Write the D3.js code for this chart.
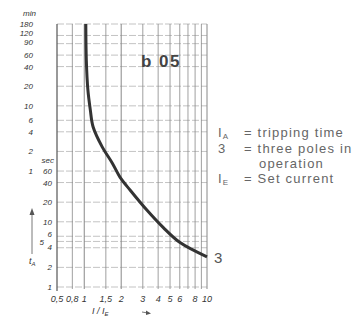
<!DOCTYPE html>
<html>
<head>
<meta charset="utf-8">
<script src="https://cdn.jsdelivr.net/npm/d3@7"></script>
<style>
  body { margin: 0; background: #fff; }
  svg { display: block; }
  .lbl { font-family: "Liberation Sans", sans-serif; font-style: italic; font-size: 8px; fill: #333; }
  .xl { font-size: 9px; }
  .leg { font-family: "Liberation Sans", sans-serif; font-size: 13px; fill: #666; letter-spacing: 1.2px; }
</style>
</head>
<body>
<svg id="chart" width="361" height="316"></svg>
<script>
// tripping curve, multiple of set current vs time (seconds)
const curveCurrent = [1.03, 1.04, 1.07, 1.12, 1.18, 1.40, 1.69, 1.96, 2.37, 3.25, 4.39, 6.03, 10]
const curveTime = [10800, 3000, 1070, 525, 287, 141, 80, 48, 30.5, 15, 8.2, 4.8, 2.9]

const xTicks = [0.5, 0.8, 1, 1.5, 2, 3, 4, 5, 6, 8, 10]
const xTickLabels = ["0,5", "0,8", "1", "1,5", "2", "3", "4", "5", "6", "8", "10"]
const xGrid = [0.8, 1, 1.5, 2, 3, 4, 5, 6, 7, 8, 9, 10]

const minTicks = [180, 120, 90, 60, 40, 20, 10, 6, 4, 2, 1]
const secTicks = [60, 40, 20, 10, 6, 4, 2, 1]
const yGridSec = [1, 2, 4, 5, 6, 10, 20, 40, 60, 120, 240, 360, 600, 1200, 2400, 3600, 5400, 7200, 10800]

const legendSymbols = ["I", "3", "", "I"]
const legendSubs = ["A", "", "", "E"]
const legendTexts = ["= tripping time", "= three poles in", "operation", "= Set current"]

const svg = d3.select("#chart")

const x = d3.scaleLog().domain([0.6, 10]).range([57, 207]).clamp(true)
const y = d3.scaleLog().domain([1, 10800]).range([287, 24])

// grid
svg.append("g")
    .selectAll("line")
    .data(yGridSec)
    .join("line")
    .attr("x1", x(0.6)).attr("x2", x(10))
    .attr("y1", d => y(d)).attr("y2", d => y(d))
    .attr("stroke", "#b4b4b4")
    .attr("stroke-width", 0.8)
    .attr("stroke-dasharray", "7 2")

svg.append("g")
    .selectAll("line")
    .data(xGrid)
    .join("line")
    .attr("x1", d => x(d)).attr("x2", d => x(d))
    .attr("y1", y(10800)).attr("y2", y(1) + 2)
    .attr("stroke", "#888")
    .attr("stroke-width", d => [1, 2, 10].includes(d) ? 1 : 0.8)

svg.append("line")
    .attr("x1", x(0.6)).attr("x2", x(0.6))
    .attr("y1", y(10800)).attr("y2", y(1) + 4)
    .attr("stroke", "#555")
    .attr("stroke-width", 1.2)

// curve
const line = d3.line()
    .x(d => x(d[0]))
    .y(d => y(d[1]))
    .curve(d3.curveCatmullRom.alpha(0.5))

svg.append("path")
    .datum(d3.zip(curveCurrent, curveTime))
    .attr("fill", "none")
    .attr("stroke", "#333")
    .attr("stroke-width", 3)
    .attr("d", line)

svg.append("text")
    .attr("x", x(10) + 7).attr("y", y(curveTime[curveTime.length - 1]) + 6)
    .attr("font-family", "Liberation Sans, sans-serif")
    .attr("font-size", 15)
    .attr("fill", "#555")
    .text("3")

svg.append("text")
    .attr("x", 141).attr("y", 67)
    .attr("font-family", "Liberation Sans, sans-serif")
    .attr("font-size", 17)
    .attr("font-weight", "bold")
    .attr("letter-spacing", 1.5)
    .attr("fill", "#444")
    .text("b 05")

// y labels (top ones nudged like the print, to stay apart)
const minNudge = { 180: 2.5, 120: 0.5, 90: 1 }
svg.append("text").attr("class", "lbl").attr("x", 36).attr("y", 16)
    .attr("text-anchor", "end").text("min")
svg.append("g")
    .selectAll("text")
    .data(minTicks)
    .join("text")
    .attr("class", "lbl")
    .attr("x", 33)
    .attr("y", d => y(d * 60) + (minNudge[d] ?? 3))
    .attr("text-anchor", "end")
    .text(d => d)

svg.append("text").attr("class", "lbl").attr("x", 54).attr("y", 163)
    .attr("text-anchor", "end").text("sec")
svg.append("g")
    .selectAll("text")
    .data(secTicks)
    .join("text")
    .attr("class", "lbl")
    .attr("x", 52)
    .attr("y", d => y(d) + (d === 6 ? 1 : d === 4 ? 2 : 3))
    .attr("text-anchor", "end")
    .text(d => d)
svg.append("text").attr("class", "lbl").attr("x", 44).attr("y", y(5) + 4)
    .attr("text-anchor", "end").text("5")

// t_A arrow
svg.append("line")
    .attr("x1", 32).attr("x2", 32).attr("y1", 254).attr("y2", 213)
    .attr("stroke", "#555").attr("stroke-width", 0.8)
svg.append("path")
    .attr("d", "M32,208 L29.5,215 L34.5,215 Z")
    .attr("fill", "#555")
const tA = svg.append("text").attr("class", "lbl xl").attr("x", 29).attr("y", 264)
tA.append("tspan").text("t")
tA.append("tspan").attr("font-size", 6).attr("dy", 2).text("A")

// x labels
svg.append("g")
    .selectAll("text")
    .data(xTicks)
    .join("text")
    .attr("class", "lbl xl")
    .attr("x", d => x(d))
    .attr("y", 302)
    .attr("text-anchor", "middle")
    .text((d, i) => xTickLabels[i])

const xl = svg.append("text").attr("class", "lbl xl").attr("x", 92).attr("y", 314)
xl.append("tspan").text("I / I")
xl.append("tspan").attr("font-size", 6).attr("dy", 2).text("E")
svg.append("line")
    .attr("x1", 142).attr("x2", 148).attr("y1", 312).attr("y2", 313)
    .attr("stroke", "#555").attr("stroke-width", 0.8)
svg.append("path").attr("d", "M151,313.5 L146,310.5 L146,315 Z").attr("fill", "#555")

// legend
const legY = [137, 153, 168, 183]
const leg = svg.append("g")
leg.selectAll("text.sym")
    .data(legendSymbols)
    .join("text")
    .attr("class", "leg sym")
    .attr("x", 218)
    .attr("y", (d, i) => legY[i])
    .each(function (d, i) {
        d3.select(this).append("tspan").text(d)
        if (legendSubs[i]) d3.select(this).append("tspan").attr("font-size", 8).attr("dy", 2).text(legendSubs[i])
    })
leg.selectAll("text.txt")
    .data(legendTexts)
    .join("text")
    .attr("class", "leg txt")
    .attr("x", (d, i) => d.startsWith("=") ? 244 : 259)
    .attr("y", (d, i) => legY[i])
    .text(d => d)
</script>
</body>
</html>
